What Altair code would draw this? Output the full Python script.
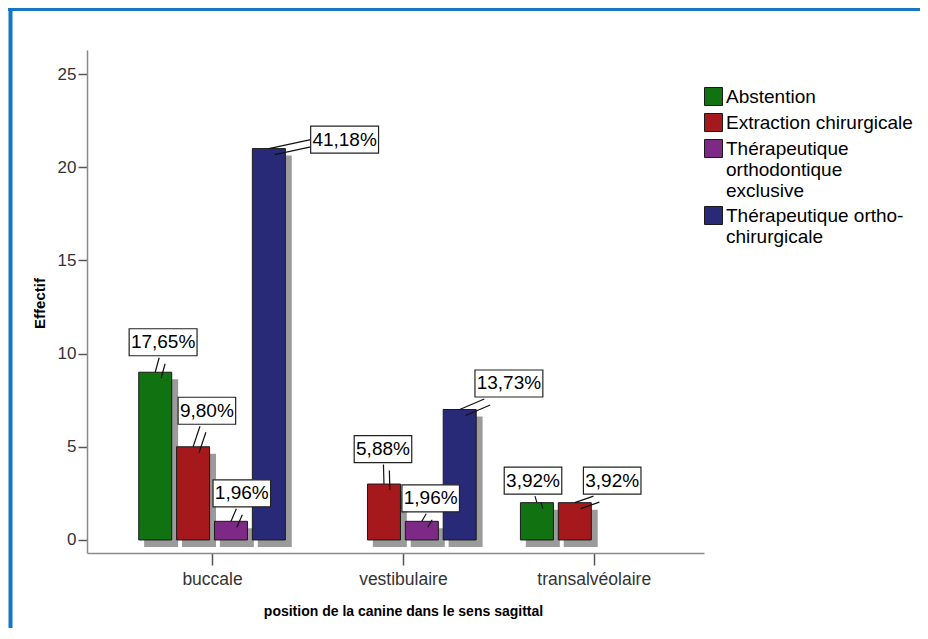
import altair as alt
import pandas as pd

# ---------------- data ----------------
categories = ["buccale", "vestibulaire", "transalvéolaire"]
series = [
    "Abstention",
    "Extraction chirurgicale",
    "Thérapeutique orthodontique exclusive",
    "Thérapeutique ortho-chirurgicale",
]
colors = ["#107210", "#a5181c", "#7d2a86", "#282a78"]

abstention = [9, 0, 2]
extraction = [5, 3, 2]
ortho_exclusive = [1, 1, 0]
ortho_chir = [21, 7, 0]
counts = dict(zip(series, [abstention, extraction, ortho_exclusive, ortho_chir]))

pct_abstention = ["17,65%", None, "3,92%"]
pct_extraction = ["9,80%", "5,88%", "3,92%"]
pct_ortho_exclusive = ["1,96%", "1,96%", None]
pct_ortho_chir = ["41,18%", "13,73%", None]
percent_labels = dict(zip(series, [pct_abstention, pct_extraction, pct_ortho_exclusive, pct_ortho_chir]))

legend_lines = {
    "Thérapeutique orthodontique exclusive": ["Thérapeutique", "orthodontique", "exclusive"],
    "Thérapeutique ortho-chirurgicale": ["Thérapeutique ortho-", "chirurgicale"],
}

# ---------------- layout (pixels) ----------------
W, H = 617, 503
X_DOMAIN = [-0.629, 2.5515]
Y_DOMAIN = [-0.70, 26.29]
PX_X = W / (X_DOMAIN[1] - X_DOMAIN[0])
PX_Y = H / (Y_DOMAIN[1] - Y_DOMAIN[0])
SLOT = 38.5 / PX_X
BAR_W = 33
SH_DX, SH_DY = 6, 7
BOX_H = 27

# label box centre offset from bar-top centre (px, y downward)
label_offsets = {
    ("buccale", "Abstention"): (8, -30),
    ("buccale", "Extraction chirurgicale"): (14, -36),
    ("buccale", "Thérapeutique orthodontique exclusive"): (11, -28),
    ("buccale", "Thérapeutique ortho-chirurgicale"): (77, -9),
    ("vestibulaire", "Extraction chirurgicale"): (-1, -35),
    ("vestibulaire", "Thérapeutique orthodontique exclusive"): (9, -23),
    ("vestibulaire", "Thérapeutique ortho-chirurgicale"): (50, -26),
    ("transalvéolaire", "Abstention"): (-4, -22),
    ("transalvéolaire", "Extraction chirurgicale"): (38, -22),
}

bars, labels, leaders = [], [], []
for gi, cat in enumerate(categories):
    for si, s in enumerate(series):
        v = counts[s][gi]
        if v <= 0:
            continue
        xc = gi + (si - 1.5) * SLOT
        bars.append(dict(cat=cat, serie=s, x=xc, y=v,
                         sx=xc + SH_DX / PX_X, sy=v - SH_DY / PX_Y, sy2=-SH_DY / PX_Y))
        lab = percent_labels[s][gi]
        if lab:
            dx, dy = label_offsets[(cat, s)]
            hw = (10.5 * len(lab) + 6) / 2
            hh = BOX_H / 2
            bl, br, bt, bb = dx - hw, dx + hw, dy - hh, dy + hh
            if bb < -3:
                sx0 = min(max(0.5 * dx, bl + 2), br - 2)
                sy0 = bb + 2
            else:
                sx0 = bl
                sy0 = dy
            labels.append(dict(text=lab, tx=xc + dx / PX_X, ty=v - dy / PX_Y,
                               bx1=xc + bl / PX_X, bx2=xc + br / PX_X,
                               by1=v - bt / PX_Y, by2=v - bb / PX_Y))
            for k, (ox, oy) in enumerate([(6, 6), (0, 0)]):
                leaders.append(dict(kind=k,
                                    lx=xc + (sx0 + ox) / PX_X, ly=v - (sy0 + oy) / PX_Y,
                                    lx2=xc + ox / PX_X, ly2=v - oy / PX_Y))

df_bars = pd.DataFrame(bars)
df_labels = pd.DataFrame(labels)
df_leaders = pd.DataFrame(leaders)

FONT = "Liberation Sans, Arial, sans-serif"

xscale = alt.Scale(domain=X_DOMAIN, nice=False, zero=False)
yscale = alt.Scale(domain=Y_DOMAIN, nice=False, zero=False)

label_expr_x = "[" + ",".join("'%s'" % c for c in categories) + "][datum.value]"
legend_expr = ""
for full, lines in legend_lines.items():
    legend_expr += "datum.label == '%s' ? [%s] : " % (full, ",".join("'%s'" % l for l in lines))
legend_expr += "datum.label"

xaxis = alt.Axis(values=[0, 1, 2], labelExpr=label_expr_x, grid=False,
                 title="position de la canine dans le sens sagittal",
                 tickSize=12, tickColor="#555555", tickWidth=1.5,
                 domainColor="#8a8a8a", domainWidth=1.5,
                 labelFont=FONT, labelFontSize=17.5, labelColor="#333333", labelPadding=5,
                 titleFont=FONT, titleFontSize=14, titleFontWeight="bold", titleColor="#000000",
                 titleX=316, titleY=58, titleBaseline="middle", titleAlign="center")
yaxis = alt.Axis(values=[0, 5, 10, 15, 20, 25], grid=False, title="Effectif",
                 tickSize=9, tickColor="#555555", tickWidth=1.5,
                 domainColor="#8a8a8a", domainWidth=1.5,
                 labelFont=FONT, labelFontSize=17, labelColor="#333333", labelPadding=2,
                 titleFont=FONT, titleFontSize=15, titleFontWeight="bold", titleColor="#000000",
                 titleX=-48, titleY=253, titleAngle=-90, titleBaseline="middle", titleAlign="center")

shadow = alt.Chart(df_bars).mark_bar(size=BAR_W + 1, color="#9b9b9b").encode(
    x=alt.X("sx:Q", scale=xscale, axis=xaxis),
    y=alt.Y("sy:Q", scale=yscale, axis=yaxis),
    y2="sy2:Q",
)

bar_layer = alt.Chart(df_bars).mark_bar(size=BAR_W, stroke="#1a1a1a", strokeWidth=1, opacity=1).encode(
    x=alt.X("x:Q", scale=xscale, axis=xaxis),
    y=alt.Y("y:Q", scale=yscale, axis=yaxis),
    color=alt.Color("serie:N", scale=alt.Scale(domain=series, range=colors),
                    legend=alt.Legend(title=None, orient="none", legendX=617, legendY=37,
                                      direction="vertical", padding=0,
                                      symbolType="square", symbolSize=324,
                                      symbolStrokeColor="#1a1a1a", symbolStrokeWidth=1,
                                      symbolOpacity=1,
                                      labelFont=FONT, labelFontSize=19, labelColor="#000000",
                                      labelOffset=3, labelLimit=400, rowPadding=3,
                                      labelExpr=legend_expr)),
)

leader_layer = alt.Chart(df_leaders).mark_rule(strokeWidth=1.2, color="#111111").encode(
    x=alt.X("lx:Q", scale=xscale, axis=xaxis),
    y=alt.Y("ly:Q", scale=yscale, axis=yaxis),
    x2="lx2:Q",
    y2="ly2:Q",
)

box_layer = alt.Chart(df_labels).mark_rect(fill="white", stroke="#222222", strokeWidth=1.2).encode(
    x=alt.X("bx1:Q", scale=xscale, axis=xaxis),
    x2="bx2:Q",
    y=alt.Y("by1:Q", scale=yscale, axis=yaxis),
    y2="by2:Q",
)

text_layer = alt.Chart(df_labels).mark_text(font=FONT, fontSize=19, color="#000000",
                                            align="center", baseline="middle").encode(
    x=alt.X("tx:Q", scale=xscale, axis=xaxis),
    y=alt.Y("ty:Q", scale=yscale, axis=yaxis),
    text="text:N",
)

one = pd.DataFrame({"k": [0]})
border_top = alt.Chart(one).mark_rule(color="#1676c6", strokeWidth=5).encode(
    x=alt.value(-79), x2=alt.value(845), y=alt.value(-41.5))
border_left = alt.Chart(one).mark_rule(color="#1676c6", strokeWidth=4).encode(
    x=alt.value(-76.5), y=alt.value(-44), y2=alt.value(600))

chart = alt.layer(
    shadow, bar_layer, leader_layer, box_layer, text_layer, border_top, border_left
).properties(
    width=W, height=H,
    autosize=alt.AutoSizeParams(type="none"),
    padding={"left": 79, "top": 42, "right": 216, "bottom": 75},
    background="white",
).configure_view(stroke=None)

chart.save("out.html", embed_options={"renderer": "svg", "actions": False})
